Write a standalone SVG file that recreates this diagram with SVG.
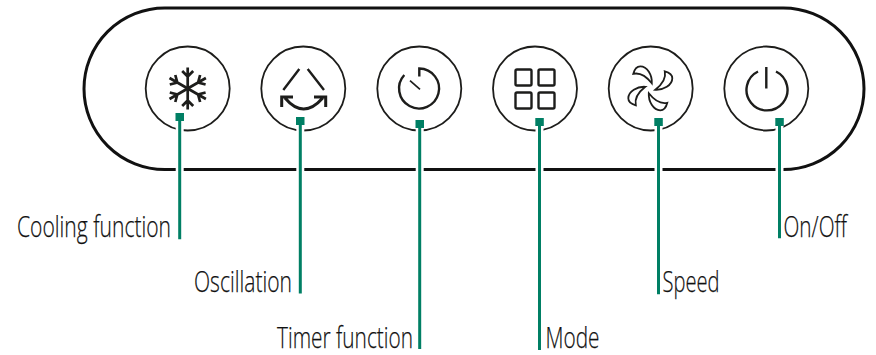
<svg xmlns="http://www.w3.org/2000/svg" width="876" height="355" viewBox="0 0 876 355">
<style>
.ring{fill:none;stroke:#1d1d1b;stroke-width:1.8}
.ico{fill:none;stroke:#1d1d1b;stroke-width:2.4;stroke-linecap:butt;stroke-linejoin:miter}
.flake{fill:none;stroke:#1d1d1b;stroke-width:2.7;stroke-linecap:butt;stroke-linejoin:miter}
.bold{fill:none;stroke:#1d1d1b;stroke-width:3;stroke-linecap:butt;stroke-linejoin:miter}
.thin{fill:none;stroke:#1d1d1b;stroke-width:1.7;stroke-linejoin:round}
.blade{fill:none;stroke:#1d1d1b;stroke-width:1.8;stroke-linejoin:miter}
.halo{stroke:#fff;stroke-width:8;fill:none}
.lead{stroke:#007f64;stroke-width:3;fill:none}
.dot{fill:#007f64}
text{font-family:"Open Sans","Liberation Sans",sans-serif;font-size:30px;font-weight:300;fill:#111;stroke:#111;stroke-width:.25}
</style>
<defs>
<path id="arm" class="flake" d="M0 0V-21M-5.500 -17.500L0 -12L5.500 -17.500"/>
<path id="blade" class="blade" d="M1.500 -5C2 -13 -3 -22 -10 -22C-13.500 -22 -16 -18.500 -17 -14.500C-10 -16 -4 -12 1.500 -5Z"/>
</defs>
<g id="panel"><rect x="84" y="8" width="780" height="161.500" rx="80.700" fill="none" stroke="#111" stroke-width="3"/></g>
<g id="btn-cooling">
<circle class="ring" cx="187.700" cy="88.500" r="42"/>
<g transform="translate(187.700 88.500)"><use href="#arm"/><use href="#arm" transform="rotate(60)"/><use href="#arm" transform="rotate(120)"/><use href="#arm" transform="rotate(180)"/><use href="#arm" transform="rotate(240)"/><use href="#arm" transform="rotate(300)"/></g>
</g>
<g id="btn-oscillation">
<circle class="ring" cx="303.300" cy="88.500" r="42"/>
<path class="ico" d="M283.300 90L299.300 69M307.700 69L324 90"/>
<path class="bold" d="M281.700 107V97H293M285 98Q303.500 120 322.700 98M325.700 107V97H314"/>
</g>
<g id="btn-timer">
<circle class="ring" cx="419.300" cy="88.500" r="42"/>
<path class="ico" d="M419.300 76.500V68.500A20 20 0 1 1 404.300 75"/>
<path class="thin" d="M410 80.700L420 89.300"/>
</g>
<g id="btn-mode">
<circle class="ring" cx="535" cy="88.500" r="42"/>
<g class="ico"><rect x="515.500" y="69.500" width="16" height="16" rx="1.500"/><rect x="538.500" y="69.500" width="16" height="16" rx="1.500"/><rect x="515.500" y="92.500" width="16" height="16" rx="1.500"/><rect x="538.500" y="92.500" width="16" height="16" rx="1.500"/></g>
</g>
<g id="btn-speed">
<circle class="ring" cx="650.700" cy="88.500" r="42"/>
<g transform="translate(650.300 88.300)"><use href="#blade"/><use href="#blade" transform="rotate(90)"/><use href="#blade" transform="rotate(180)"/><use href="#blade" transform="rotate(270)"/></g>
</g>
<g id="btn-onoff">
<circle class="ring" cx="766.300" cy="88.500" r="42"/>
<path class="ico" d="M766.300 67V88.500M758 71.500A20.500 20.500 0 1 0 776 71.500"/>
</g>
<g id="connectors">
<path class="halo" d="M179.700 124V135M300.300 126V135M419.700 128V135M539.500 126V135M658.500 126V134M779.500 126V133M179.700 165V174M300.300 165V174M419.700 165V174M539.500 165V174M658.500 165V174M779.500 165V174"/>
<path class="lead" d="M179.700 113V239.300M300.300 117V293.500M419.700 120V349M539.500 118V350M658.500 118V294.300M779.500 118V238.300"/>
<rect class="dot" x="175.500" y="113" width="8.500" height="8"/><rect class="dot" x="296" y="117" width="8.500" height="8"/><rect class="dot" x="415.500" y="120" width="8.500" height="8"/><rect class="dot" x="535.300" y="118" width="8.500" height="8"/><rect class="dot" x="654.300" y="118" width="8.500" height="8"/><rect class="dot" x="775.300" y="118" width="8.500" height="8"/>
</g>
<g id="labels">
<text x="17" y="237" textLength="154" lengthAdjust="spacingAndGlyphs">Cooling function</text>
<text x="194" y="292" textLength="98" lengthAdjust="spacingAndGlyphs">Oscillation</text>
<text x="277" y="347.500" textLength="136" lengthAdjust="spacingAndGlyphs">Timer function</text>
<text x="545.500" y="347.500" textLength="54" lengthAdjust="spacingAndGlyphs">Mode</text>
<text x="662.500" y="292" textLength="57" lengthAdjust="spacingAndGlyphs">Speed</text>
<text x="783.500" y="237" textLength="63.500" lengthAdjust="spacingAndGlyphs">On/Off</text>
</g>
</svg>
